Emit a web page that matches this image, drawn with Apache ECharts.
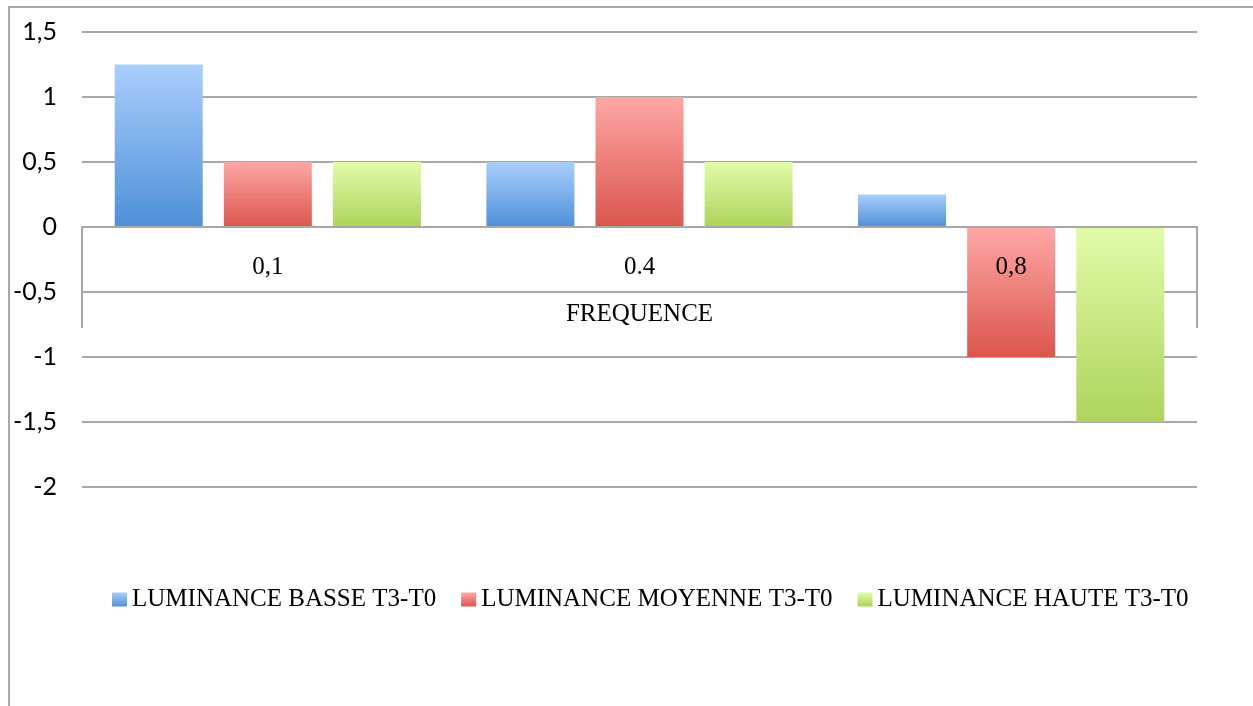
<!DOCTYPE html>
<html>
<head>
<meta charset="utf-8">
<script src="https://cdn.jsdelivr.net/npm/echarts@6/dist/echarts.min.js"></script>
<style>
  html, body { margin: 0; padding: 0; background: #ffffff; }
  #chart { width: 1253px; height: 706px; }
</style>
</head>
<body>
<div id="chart"></div>
<script>
// Category labels along the frequency axis
const categories = ['0,1', '0.4', '0,8'];
// Series names and their T3-T0 differences
const seriesNames = ['LUMINANCE BASSE T3-T0', 'LUMINANCE MOYENNE T3-T0', 'LUMINANCE HAUTE T3-T0'];
const basse = [1.25, 0.5, 0.25];
const moyenne = [0.5, 1, -1];
const haute = [0.5, 0.5, -1.5];
const axisTitle = 'FREQUENCE';

const serif = '"Liberation Serif", "DejaVu Serif", serif';
const sans = 'Lato, "Open Sans", sans-serif';
const gridColor = '#a8a8a8';

function grad(top, bottom) {
  return new echarts.graphic.LinearGradient(0, 0, 0, 1, [
    { offset: 0, color: top },
    { offset: 1, color: bottom }
  ]);
}
const palettes = [
  ['#a9cefd', '#4e90d8'],
  ['#ffa7a5', '#db564d'],
  ['#e1fca9', '#afd35c']
];

function barSeries(name, values, pal) {
  return {
    name: name,
    type: 'bar',
    barWidth: 88,
    barGap: '24%',
    data: values,
    itemStyle: {
      color: grad(pal[0], pal[1]),
      shadowColor: 'rgba(0,0,0,0.35)',
      shadowBlur: 6,
      shadowOffsetY: 3
    }
  };
}

const chart = echarts.init(document.getElementById('chart'), null, { renderer: 'canvas' });

const gridBottom = 219;
const option = {
  animation: false,
  backgroundColor: '#ffffff',
  color: palettes.map(p => grad(p[0], p[1])),
  grid: { left: 82, right: 56, top: 32, bottom: gridBottom, containLabel: false },
  legend: {
    bottom: 89,
    left: 107,
    itemWidth: 15,
    itemHeight: 14,
    itemGap: 25,
    icon: 'rect',
    textStyle: { fontFamily: serif, fontSize: 25, color: '#000000' },
    data: seriesNames
  },
  xAxis: {
    type: 'category',
    data: categories,
    z: 3,
    axisLine: { onZero: false, lineStyle: { color: gridColor, width: 2 } },
    axisTick: { show: false },
    axisLabel: { fontFamily: serif, fontSize: 25, color: '#000000', margin: 28 },
    name: axisTitle,
    nameLocation: 'middle',
    nameGap: 75,
    nameTextStyle: { fontFamily: serif, fontSize: 25, color: '#000000' }
  },
  yAxis: {
    type: 'value',
    min: -2,
    max: 1.5,
    interval: 0.5,
    axisLine: { show: false },
    axisTick: { show: false },
    splitLine: { lineStyle: { color: gridColor, width: 2 } },
    axisLabel: {
      fontFamily: sans, fontSize: 25, color: '#000000', margin: 25,
      formatter: v => String(v).replace('.', ',')
    }
  },
  series: [
    barSeries(seriesNames[0], basse, palettes[0]),
    barSeries(seriesNames[1], moyenne, palettes[1]),
    barSeries(seriesNames[2], haute, palettes[2])
  ]
};
chart.setOption(option);

// Lift the category axis up to the zero line
const zeroY = chart.convertToPixel({ yAxisIndex: 0 }, 0);
const minY = chart.convertToPixel({ yAxisIndex: 0 }, -2);
chart.setOption({ xAxis: { offset: -(minY - zeroY) } });

// Outer frame edges plus the end walls of the category label band
const gridLeft = 82, gridRight = 1253 - 56;
const bandEnd = zeroY + 101;
const lineStyle = { stroke: gridColor, lineWidth: 2 };
chart.setOption({
  graphic: [
    { type: 'line', shape: { x1: 9, y1: 7, x2: 9, y2: 706 }, style: lineStyle, z: 10 },
    { type: 'line', shape: { x1: 8, y1: 7, x2: 1253, y2: 7 }, style: lineStyle, z: 10 },
    { type: 'line', shape: { x1: gridLeft, y1: zeroY, x2: gridLeft, y2: bandEnd }, style: lineStyle, z: 10 },
    { type: 'line', shape: { x1: gridRight, y1: zeroY, x2: gridRight, y2: bandEnd }, style: lineStyle, z: 10 }
  ]
});
</script>
</body>
</html>
